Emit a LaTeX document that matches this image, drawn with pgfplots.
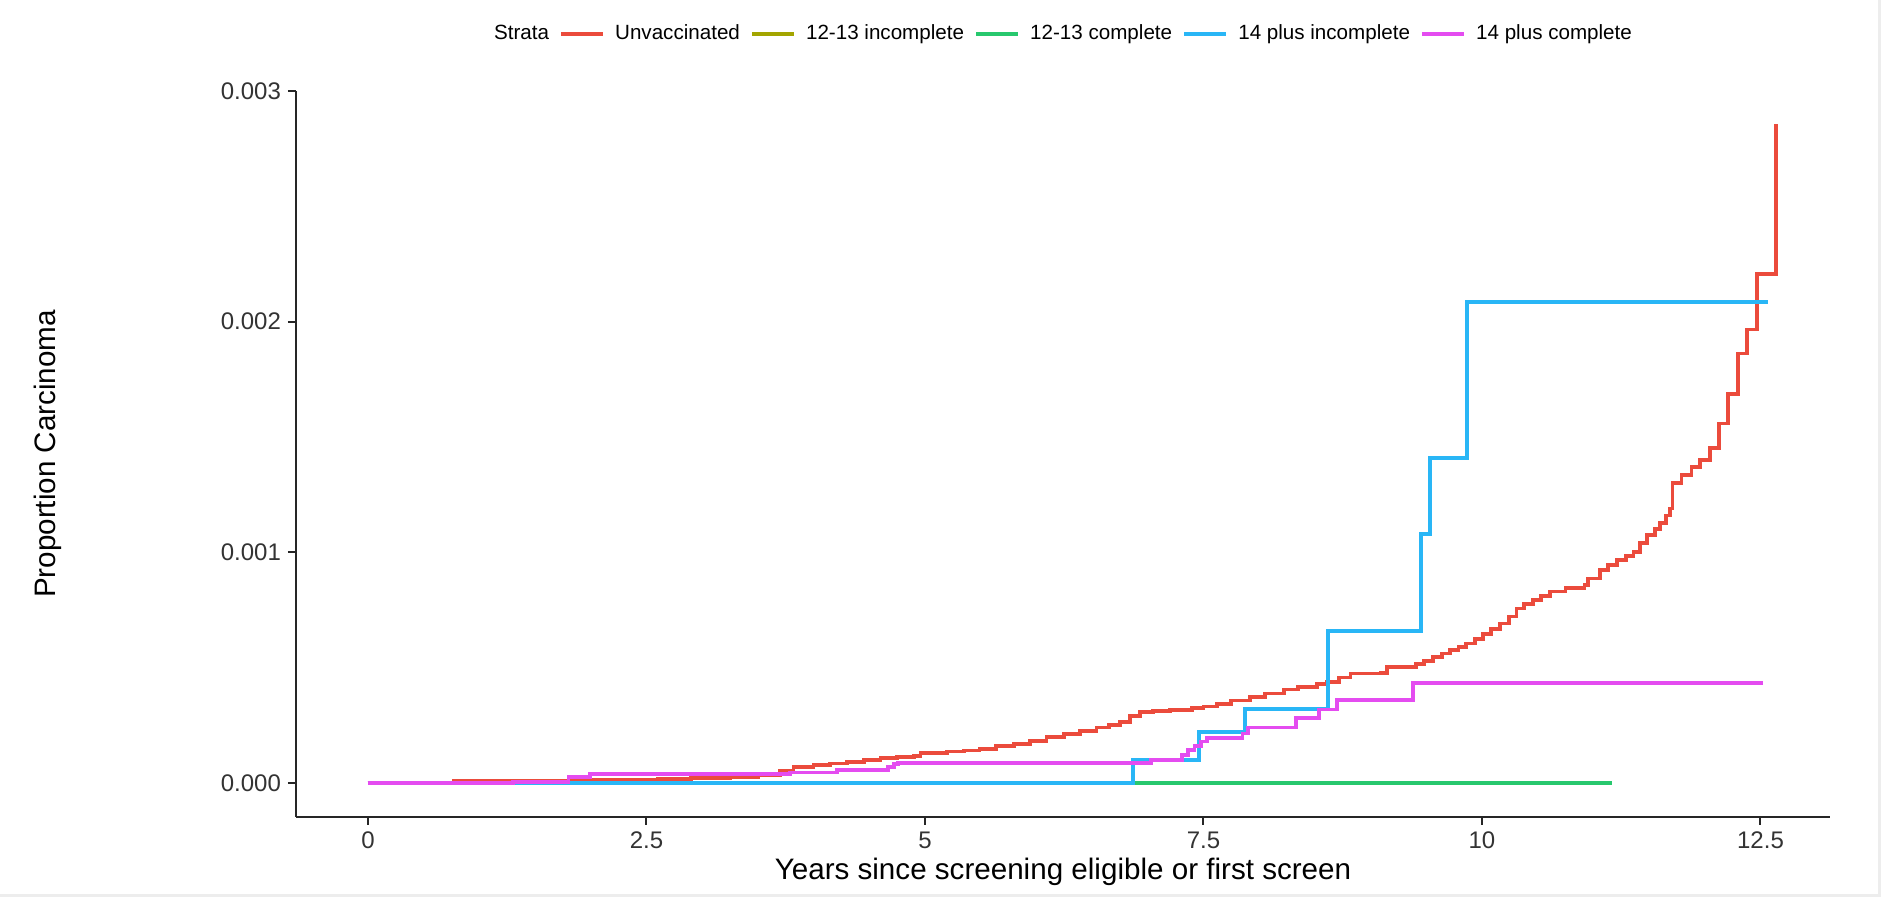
\documentclass[border=0pt]{standalone}
\usepackage{fontspec}
\setmainfont{Liberation Sans}
\usepackage{pgfplots}
\pgfplotsset{compat=1.18}
\definecolor{cRed}{RGB}{235,75,60}
\definecolor{cOlive}{RGB}{163,165,0}
\definecolor{cGreen}{RGB}{40,200,110}
\definecolor{cBlue}{RGB}{41,182,246}
\definecolor{cMag}{RGB}{228,76,240}
\begin{document}
\begin{tikzpicture}
\useasboundingbox (0,0) rectangle (940.5pt,448.5pt);
\fill[white] (0,0) rectangle (940.5pt,448.5pt);
\draw[black!7, line width=1.5pt] (0,0.75pt) -- (939.75pt,0.75pt) -- (939.75pt,448.5pt);
\begin{axis}[
  at={(148pt,40pt)}, anchor=south west,
  scale only axis, width=767pt, height=363pt,
  xmin=-0.646, xmax=13.124, ymin=-0.000147, ymax=0.003,
  axis x line*=bottom, axis y line*=left,
  axis line style={line width=1pt, black!85, -},
  xtick={0,2.5,5,7.5,10,12.5},
  xticklabels={0,2.5,5,7.5,10,12.5},
  ytick={0,0.001,0.002,0.003},
  yticklabels={0.000,0.001,0.002,0.003},
  scaled y ticks=false, scaled x ticks=false,
  tick style={line width=1pt, black!85},
  major tick length=4pt,
  tick align=outside,
  ticklabel style={font=\fontsize{12}{14}\selectfont, text=black!80},
  xlabel={Years since screening eligible or first screen},
  ylabel={Proportion Carcinoma},
  label style={font=\fontsize{14.8}{17}\selectfont, text=black},
  xlabel style={at={(axis description cs:0.5,-0.0758)}, anchor=center},
  ylabel style={at={(axis description cs:-0.1617,0.5)}, anchor=center},
  legend style={at={(0.5,1.0785)}, anchor=center, draw=none, fill=none,
    legend columns=-1, font=\fontsize{10.3}{12}\selectfont,
    /tikz/every even column/.append style={column sep=3pt}},
  legend cell align=left,
  legend image code/.code={\draw[#1, line width=2.2pt] (0pt,0pt) -- (21pt,0pt); \path (24pt,0pt);},
]
\addlegendimage{empty legend}
\addlegendentry{Strata}

\addplot[cRed, line width=1.9pt, const plot] coordinates {
(0,0) (0.77,0.00001) (1.84,0.000012) (2.3,0.000015) (2.6,0.000018) (2.9,0.000022)
(3.25,0.000027) (3.5,0.000035) (3.70,0.000052) (3.82,0.000070) (4.00,0.000078)
(4.15,0.000085) (4.30,0.000092) (4.45,0.000100) (4.60,0.000107) (4.75,0.000112)
(4.90,0.000117) (4.96,0.000131) (5.20,0.000137) (5.35,0.000141) (5.49,0.000146)
(5.64,0.000160) (5.80,0.000170) (5.94,0.000182) (6.09,0.000201) (6.25,0.000214)
(6.39,0.000227) (6.54,0.000241) (6.65,0.000252) (6.75,0.000266) (6.84,0.000290)
(6.93,0.000309) (7.05,0.000314) (7.20,0.000318) (7.40,0.000324) (7.50,0.000332)
(7.62,0.000342) (7.75,0.000358) (7.92,0.000374) (8.05,0.000388) (8.22,0.000406)
(8.35,0.000415) (8.52,0.000429) (8.61,0.000439) (8.72,0.000458) (8.82,0.000475)
(9.09,0.000478) (9.15,0.000504) (9.41,0.000516) (9.48,0.000530) (9.56,0.000547)
(9.64,0.000562) (9.71,0.000577) (9.79,0.000590) (9.86,0.000605) (9.94,0.000625)
(10.01,0.000646) (10.08,0.000668) (10.16,0.000692) (10.24,0.000722) (10.31,0.000757)
(10.38,0.000775) (10.46,0.000793) (10.53,0.000812) (10.61,0.000830) (10.75,0.000845)
(10.92,0.000860) (10.95,0.000887) (11.06,0.000923) (11.13,0.000945) (11.21,0.000967)
(11.29,0.000985) (11.36,0.001003) (11.42,0.001040) (11.48,0.001075) (11.55,0.001100)
(11.60,0.001126) (11.65,0.001160) (11.69,0.001190) (11.71,0.001299) (11.79,0.001335)
(11.88,0.001371) (11.96,0.001400) (12.05,0.001454) (12.13,0.001559) (12.21,0.001685)
(12.30,0.001862) (12.38,0.001966) (12.47,0.002206) (12.64,0.002859)
};
\addlegendentry{Unvaccinated}

\addplot[cOlive, line width=1.9pt, const plot] coordinates {(0,0) (9.5,0)};
\addlegendentry{12-13 incomplete}

\addplot[cGreen, line width=1.9pt, const plot] coordinates {(0,0) (11.17,0)};
\addlegendentry{12-13 complete}

\addplot[cBlue, line width=1.9pt, const plot] coordinates {
(0,0) (6.87,0.000101) (7.46,0.000223) (7.87,0.000322) (8.62,0.000660)
(9.455,0.001079) (9.533,0.001410) (9.868,0.002085) (12.57,0.002085)
};
\addlegendentry{14 plus incomplete}

\addplot[cMag, line width=1.9pt, const plot] coordinates {
(0,0) (1.30,0.000005) (1.80,0.000025) (1.99,0.000038) (3.79,0.000046)
(4.21,0.000056) (4.67,0.000070) (4.72,0.000082) (4.76,0.000088) (7.03,0.000101)
(7.31,0.000121) (7.36,0.000143) (7.42,0.000160) (7.48,0.000180) (7.53,0.000194)
(7.85,0.000215) (7.90,0.000241) (8.33,0.000281) (8.54,0.000319) (8.70,0.000360)
(9.38,0.000435) (12.52,0.000435)
};
\addlegendentry{14 plus complete}
\end{axis}
\end{tikzpicture}
\end{document}
